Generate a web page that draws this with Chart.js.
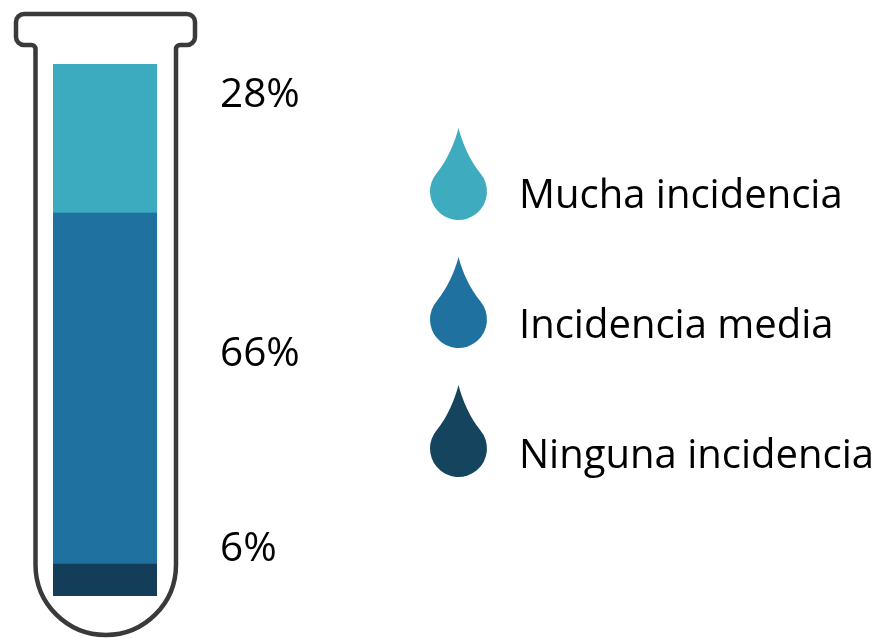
<!DOCTYPE html>
<html>
<head>
<meta charset="utf-8">
<script src="https://cdn.jsdelivr.net/npm/chart.js@4/dist/chart.umd.min.js"></script>
<style>
  html, body { margin: 0; padding: 0; background: #ffffff; }
  canvas { display: block; }
</style>
</head>
<body>
<canvas id="c" width="881" height="638"></canvas>
<script>
// ---- data ----
const categories = ['Incidencia'];
const seriesNames = ['Ninguna incidencia', 'Incidencia media', 'Mucha incidencia'];
const seriesValues = [6, 66, 28];
const seriesColors = ['#133D58', '#1F71A0', '#3DABBF'];
const legendColors = ['#15445F', '#1F72A0', '#3EACBE'];
const valueLabels = ['6%', '66%', '28%'];

const FONT = '"Open Sans", "Noto Sans", sans-serif';

// test-tube outline (decoration)
const tubePlugin = {
  id: 'tube',
  afterDatasetsDraw(chart) {
    const ctx = chart.ctx;
    const L = 35.5, R = 176, rimL = 16, rimR = 195, rimT = 14, rimB = 45;
    const rr = 8;
    const cx = (L + R) / 2, r = (R - L) / 2, cy = 635 - r;
    ctx.save();
    ctx.strokeStyle = '#3A3A3A';
    ctx.lineWidth = 4.5;
    ctx.lineJoin = 'round';
    ctx.beginPath();
    ctx.moveTo(L, cy);
    ctx.lineTo(L, rimB + 4);
    ctx.arcTo(L, rimB, L - 4, rimB, 4);
    ctx.lineTo(rimL + rr, rimB);
    ctx.arcTo(rimL, rimB, rimL, rimB - rr, rr);
    ctx.lineTo(rimL, rimT + rr);
    ctx.arcTo(rimL, rimT, rimL + rr, rimT, rr);
    ctx.lineTo(rimR - rr, rimT);
    ctx.arcTo(rimR, rimT, rimR, rimT + rr, rr);
    ctx.lineTo(rimR, rimB - rr);
    ctx.arcTo(rimR, rimB, rimR - rr, rimB, rr);
    ctx.lineTo(R + 4, rimB);
    ctx.arcTo(R, rimB, R, rimB + 4, 4);
    ctx.lineTo(R, cy);
    ctx.arc(cx, cy, r, 0, Math.PI, false);
    ctx.closePath();
    ctx.stroke();
    ctx.restore();
  }
};

// value labels to the right of the tube
const labelPlugin = {
  id: 'valueLabels',
  afterDraw(chart) {
    const ctx = chart.ctx;
    ctx.save();
    ctx.font = '40.5px ' + FONT;
    ctx.fillStyle = '#000000';
    ctx.textAlign = 'left';
    ctx.textBaseline = 'alphabetic';
    const offsets = [-19, -23, -31.5];
    chart.data.datasets.forEach((ds, i) => {
      const bar = chart.getDatasetMeta(i).data[0];
      const mid = (bar.y + bar.base) / 2;
      ctx.fillText(valueLabels[i], 220, mid + offsets[i]);
    });
    ctx.restore();
  }
};

// droplet legend
function drawDrop(ctx, cx, cy, r, tipY, color) {
  const a = 40 * Math.PI / 180;
  const px = r * Math.cos(a), py = r * Math.sin(a);
  const k = 16;
  const tx = Math.sin(a) * k, ty = Math.cos(a) * k;
  ctx.beginPath();
  ctx.moveTo(cx, tipY);
  ctx.bezierCurveTo(cx + 3.5, tipY + 14, cx + px - tx, cy - py - ty, cx + px, cy - py);
  ctx.arc(cx, cy, r, -a, Math.PI + a, false);
  ctx.bezierCurveTo(cx - px + tx, cy - py - ty, cx - 3.5, tipY + 14, cx, tipY);
  ctx.closePath();
  ctx.fillStyle = color;
  ctx.fill();
}
const legendPlugin = {
  id: 'dropLegend',
  afterDraw(chart) {
    const ctx = chart.ctx;
    const n = chart.data.datasets.length;
    const rowBase = [208, 338, 468];
    ctx.save();
    ctx.font = '40px ' + FONT;
    ctx.textAlign = 'left';
    ctx.textBaseline = 'alphabetic';
    for (let k = 0; k < n; k++) {
      const i = n - 1 - k;
      const ds = chart.data.datasets[i];
      const y = rowBase[k];
      const bottom = [220, 348, 477][k];
      const tip = [128, 257, 385][k];
      drawDrop(ctx, 458.5, bottom - 28.5, 28.5, tip, legendColors[i]);
      ctx.fillStyle = '#000000';
      ctx.fillText(ds.label, 519, y);
    }
    ctx.restore();
  }
};

new Chart(document.getElementById('c'), {
  type: 'bar',
  data: {
    labels: categories,
    datasets: seriesNames.map((name, i) => ({
      label: name,
      data: [seriesValues[i]],
      backgroundColor: seriesColors[i],
      borderWidth: 0,
      barPercentage: 1,
      categoryPercentage: 1
    }))
  },
  options: {
    responsive: false,
    animation: false,
    layout: { padding: { left: 53, right: 881 - 157, top: 64, bottom: 638 - 596 } },
    plugins: { legend: { display: false }, tooltip: { enabled: false } },
    scales: {
      x: { stacked: true, display: false },
      y: { stacked: true, display: false, min: 0, max: 100 }
    }
  },
  plugins: [tubePlugin, labelPlugin, legendPlugin]
});
</script>
</body>
</html>
